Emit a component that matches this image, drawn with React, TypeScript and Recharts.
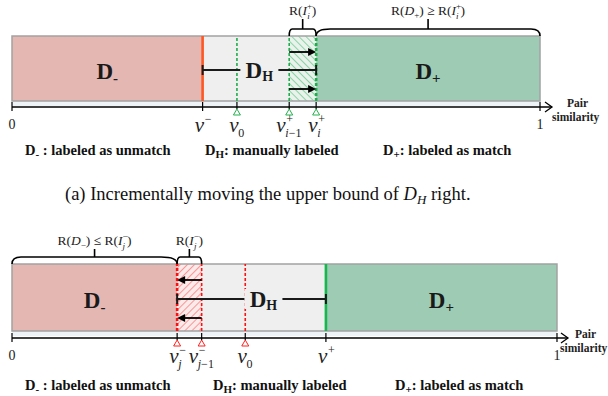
import React from 'react';
import { ComposedChart, XAxis, YAxis, ReferenceArea, ReferenceLine } from 'recharts';

// panel (a): upper bound of D_H moves right
const topTicks = [0, 0.361, 0.426, 0.525, 0.576, 1];
const topTickLabels = [
  { base: '0' },
  { base: 'v', sup: '−' },
  { base: 'v', sub: '0' },
  { base: 'v', sub: 'i−1', sup: '+' },
  { base: 'v', sub: 'i', sup: '+' },
  { base: '1' },
];
const topMarkers = [false, false, true, true, true, false];

// panel (b): lower bound of D_H moves left
const botTicks = [0, 0.303, 0.348, 0.428, 0.576, 1];
const botTickLabels = [
  { base: '0' },
  { base: 'v', sub: 'j', sup: '−' },
  { base: 'v', sub: 'j−1', sup: '−' },
  { base: 'v', sub: '0' },
  { base: 'v', sup: '+' },
  { base: '1' },
];
const botMarkers = [false, true, true, true, false, false];

const legendItems = [
  { sub: '-', text: ' : labeled as unmatch' },
  { sub: 'H', text: ': manually labeled' },
  { sub: '+', text: ': labeled as match' },
];

const PINK = '#e4b7b3';
const GREY = '#efefef';
const GREEN = '#9dcbb3';
const STRIP = '#eef3f8';
const BORDER = '#a3a3a3';
const SERIF = '"Liberation Serif", "Times New Roman", serif';

const scriptW = (s?: string) => (s ? s.split('').reduce((a, c) => a + (c === 'i' || c === 'j' ? 3.6 : 6.6), 0) : 0);

function renderTick(p: any, cfg: any) {
  const { x, y, payload } = p;
  const i = cfg.ticks.indexOf(payload.value);
  const lab = cfg.tickLabels[i] || { base: '' };
  const mark = cfg.markers[i];
  let label;
  if (lab.base !== 'v') {
    label = (
      <text x={x} y={y + 22} textAnchor="middle" fontSize={14} fontFamily={SERIF} fill="#222">
        {lab.base}
      </text>
    );
  } else {
    const total = 9 + Math.max(scriptW(lab.sub), scriptW(lab.sup));
    const x0 = x - total / 2;
    label = (
      <g fontFamily={SERIF} fill="#222">
        <text x={x0} y={y + 25} fontSize={21} fontStyle="italic">v</text>
        {lab.sup && <text x={x0 + 10} y={y + 16} fontSize={12}>{lab.sup}</text>}
        {lab.sub && (
          <text x={x0 + 9} y={y + 30} fontSize={12}>
            {lab.sub.split('').map((c: string, k: number) => (
              <tspan key={k} fontStyle={/[a-z]/.test(c) ? 'italic' : 'normal'}>{c}</tspan>
            ))}
          </text>
        )}
      </g>
    );
  }
  return (
    <g>
      <line x1={x} x2={x} y1={y - 5} y2={mark ? y + 2 : y + 4} stroke="#000" strokeWidth={1.2} />
      {mark && (
        <polygon
          points={`${x},${y + 2} ${x - 3.5},${y + 8} ${x + 3.5},${y + 8}`}
          fill="#fff"
          stroke={cfg.markColor}
          strokeWidth={1}
        />
      )}
      {label}
    </g>
  );
}

function regionLabel(sub: string) {
  return (p: any) => {
    const { x, y, width, height, fill } = p;
    return (
      <g>
        <rect x={x} y={y} width={width} height={height} fill={fill} />
        <text x={x + width / 2} y={y + height / 2 + 10} textAnchor="middle" fontFamily={SERIF} fontWeight="bold" fontSize={23} fill="#1a1a1a">
          D<tspan fontSize={15} dy={4}>{sub}</tspan>
        </text>
      </g>
    );
  };
}

function Arrow(p: any) {
  const { x1, y1, x2 } = p;
  const s = x2 > x1 ? 1 : -1;
  return (
    <g>
      <line x1={x1} y1={y1} x2={x2 - s * 7} y2={y1} stroke="#000" strokeWidth={1.8} />
      <polygon points={`${x2},${y1} ${x2 - s * 8},${y1 - 4} ${x2 - s * 8},${y1 + 4}`} fill="#000" />
    </g>
  );
}

function dhLine(frac: number) {
  return (p: any) => {
    const { x1, y1, x2 } = p;
    const lx = x1 + (x2 - x1) * frac;
    return (
      <g>
        <line x1={x1} y1={y1} x2={x2} y2={y1} stroke="#1a1a1a" strokeWidth={1.8} />
        <line x1={x1} y1={y1 - 5} x2={x1} y2={y1 + 5} stroke="#1a1a1a" strokeWidth={2} />
        <line x1={x2} y1={y1 - 5} x2={x2} y2={y1 + 5} stroke="#1a1a1a" strokeWidth={2} />
        <rect x={lx - 19} y={y1 - 10} width={38} height={20} fill={GREY} />
        <text x={lx} y={y1 + 8} textAnchor="middle" fontFamily={SERIF} fontWeight="bold" fontSize={23} fill="#1a1a1a">
          D<tspan fontSize={14} dy={3}>H</tspan>
        </text>
      </g>
    );
  };
}

function axisArrow(dx: number) {
  return (p: any) => {
    const { x1, y1, x2 } = p;
    return (
      <g>
        <line x1={x1} y1={y1} x2={x2} y2={y1} stroke="#000" strokeWidth={1.5} />
        <polyline points={`${x2 - 7},${y1 - 5} ${x2},${y1} ${x2 - 7},${y1 + 5}`} fill="none" stroke="#000" strokeWidth={1.3} />
        <text x={x2 + dx} y={y1} fontFamily={SERIF} fontWeight="bold" fontSize={11.5} fill="#222">Pair</text>
        <text x={x2 + dx - 15} y={y1 + 13.5} fontFamily={SERIF} fontWeight="bold" fontSize={11.5} fill="#222">similarity</text>
      </g>
    );
  };
}

function Brace(label: React.ReactNode, cl: number, cr: number, stem: number) {
  return (p: any) => {
    const { x, y, width, height } = p;
    const x1 = x, x2 = x + width, yb = y, yBar = y + height;
    const mid = (x1 + x2) / 2;
    const d = `M${x1},${yBar} Q${x1},${yb} ${x1 + cl},${yb} L${x2 - cr},${yb} Q${x2},${yb} ${x2},${yBar} M${mid},${yb} L${mid},${yb - stem}`;
    return (
      <g>
        <path d={d} fill="none" stroke="#000" strokeWidth={1.6} />
        <text x={mid} y={yb - stem - 4} textAnchor="middle" fontFamily={SERIF} fontSize={13.5} fill="#222">
          {label}
        </text>
      </g>
    );
  };
}

// R(I_s^t), sub and sup stacked
const rI = (sub: string, sup: string) => (
  <>
    <tspan>R(</tspan>
    <tspan fontStyle="italic">I</tspan>
    <tspan fontSize={9} dy={-6}>{sup}</tspan>
    <tspan fontSize={9} fontStyle="italic" dx={-5} dy={10}>{sub}</tspan>
    <tspan dx={2} dy={-4}>)</tspan>
  </>
);
const rD = (sub: string) => (
  <>
    <tspan>R(</tspan>
    <tspan fontStyle="italic">D</tspan>
    <tspan fontSize={9} dy={3}>{sub}</tspan>
    <tspan dy={-3}>)</tspan>
  </>
);

function Panel({ cfg }: any) {
  const c = cfg;
  return (
    <ComposedChart width={608} height={c.height} margin={{ top: 0, right: c.right, left: 12, bottom: 3 }}>
      <defs>
        <pattern id={`hatch-${c.id}`} patternUnits="userSpaceOnUse" width={5} height={5} patternTransform={`rotate(${c.hatchAngle})`}>
          <rect width={5} height={5} fill={c.hatchBg} />
          <line x1={0} y1={0} x2={0} y2={5} stroke={c.hatchColor} strokeWidth={1.1} />
        </pattern>
      </defs>
      <XAxis
        type="number"
        dataKey="x"
        domain={[0, c.xMax]}
        ticks={c.ticks}
        interval={0}
        axisLine={false}
        tickLine={false}
        tickSize={0}
        tickMargin={0}
        height={30}
        allowDataOverflow
        tick={(p: any) => renderTick(p, c)}
      />
      <YAxis type="number" domain={[0, c.yMax]} hide allowDataOverflow />

      <ReferenceArea x1={0} x2={1} y1={c.stripBot} y2={c.barBot} fill={STRIP} fillOpacity={1} stroke="none" />
      <ReferenceArea x1={0} x2={c.dNeg} y1={c.barBot} y2={c.barTop} fill={PINK} fillOpacity={1} shape={regionLabel('-')} />
      <ReferenceArea x1={c.dNeg} x2={c.dPos} y1={c.barBot} y2={c.barTop} fill={GREY} fillOpacity={1} stroke="none" />
      <ReferenceArea x1={c.hatch[0]} x2={c.hatch[1]} y1={c.barBot} y2={c.barTop} fill={`url(#hatch-${c.id})`} fillOpacity={1} stroke="none" />
      <ReferenceArea x1={c.dPos} x2={1} y1={c.barBot} y2={c.barTop} fill={GREEN} fillOpacity={1} shape={regionLabel('+')} />
      <ReferenceArea x1={0} x2={1} y1={c.barBot} y2={c.barTop} fill="none" fillOpacity={0} stroke={BORDER} strokeWidth={1.5} />

      {c.lines.map((l: any, k: number) => (
        <ReferenceLine
          key={k}
          segment={[{ x: l.x, y: c.barBot }, { x: l.x, y: c.barTop }]}
          stroke={l.color}
          strokeWidth={l.w}
          strokeDasharray={l.dash ? '3 2' : undefined}
          ifOverflow="visible"
        />
      ))}

      {c.arrowYs.map((yv: number, k: number) => (
        <ReferenceLine key={`a${k}`} segment={[{ x: c.arrowFrom, y: yv }, { x: c.arrowTo, y: yv }]} shape={Arrow} ifOverflow="visible" />
      ))}
      <ReferenceLine segment={[{ x: c.dhFrom, y: c.midY }, { x: c.dhTo, y: c.midY }]} shape={dhLine(c.dhFrac)} ifOverflow="visible" />

      {c.braces.map((b: any, k: number) => (
        <ReferenceArea key={`b${k}`} x1={b.x1} x2={b.x2} y1={c.barTop} y2={c.braceBase} fill="none" shape={Brace(b.label, b.cl, b.cr, c.stem)} ifOverflow="visible" />
      ))}

      <ReferenceLine segment={[{ x: 0, y: 0 }, { x: c.xMax, y: 0 }]} shape={axisArrow(c.pairDx)} ifOverflow="visible" />
    </ComposedChart>
  );
}

const [, tMinus, tV0, tPrev, tCur] = topTicks;
const [, bJ, bPrev, bV0, bPlus] = botTicks;

const TOP = {
  id: 'top', height: 140, xMax: 1.0227, right: 56, yMax: 107,
  ticks: topTicks, tickLabels: topTickLabels, markers: topMarkers, markColor: '#22b14c',
  barTop: 71, barBot: 6, stripBot: 1, midY: 37, arrowYs: [55, 18], braceBase: 78, stem: 10,
  dNeg: tMinus, dPos: tCur, hatch: [tPrev, tCur], hatchAngle: -45, hatchColor: '#3cb96a', hatchBg: '#e9f3ec',
  lines: [
    { x: tMinus, color: '#ff5722', w: 2.6, dash: false },
    { x: tV0, color: '#1fae4b', w: 1.6, dash: true },
    { x: tPrev, color: '#1fae4b', w: 1.6, dash: true },
    { x: tCur, color: '#1fae4b', w: 2.6, dash: true },
  ],
  arrowFrom: tPrev, arrowTo: tCur, dhFrom: tMinus, dhTo: tCur, dhFrac: 0.5,
  braces: [
    { x1: tPrev, x2: tCur, label: rI('i', '+'), cl: 3, cr: 3 },
    { x1: tCur, x2: 1, label: <>{rD('+')}<tspan> ≥ </tspan>{rI('i', '+')}</>, cl: 14, cr: 9 },
  ],
  pairDx: 15,
};

const BOT = {
  id: 'bot', height: 146, xMax: 1.0202, right: 40, yMax: 113,
  ticks: botTicks, tickLabels: botTickLabels, markers: botMarkers, markColor: '#ff2020',
  barTop: 74, barBot: 7, stripBot: 2, midY: 39, arrowYs: [58, 20], braceBase: 81, stem: 8,
  dNeg: bJ, dPos: bPlus, hatch: [bJ, bPrev], hatchAngle: 45, hatchColor: '#ff4d4d', hatchBg: '#fbeaea',
  lines: [
    { x: bJ, color: '#ff1010', w: 2.6, dash: true },
    { x: bPrev, color: '#ff1010', w: 1.6, dash: true },
    { x: bV0, color: '#ff1010', w: 1.6, dash: true },
    { x: bPlus, color: '#16b84e', w: 2.6, dash: false },
  ],
  arrowFrom: bPrev, arrowTo: bJ, dhFrom: bJ, dhTo: bPlus, dhFrac: 0.58,
  braces: [
    { x1: 0, x2: bJ, label: <>{rD('−')}<tspan> ≤ </tspan>{rI('j', '−')}</>, cl: 9, cr: 16 },
    { x1: bJ, x2: bPrev, label: rI('j', '−'), cl: 3, cr: 3 },
  ],
  pairDx: 7,
};

function LegendRow({ top, xs }: any) {
  return (
    <>
      {legendItems.map((it, k) => (
        <div
          key={k}
          style={{
            position: 'absolute', left: xs[k], top, fontFamily: SERIF, fontWeight: 'bold',
            fontSize: 14.5, lineHeight: '16px', color: '#111', whiteSpace: 'nowrap',
          }}
        >
          D<sub style={{ fontSize: 11, verticalAlign: '-3px', lineHeight: 0 }}>{it.sub}</sub>
          {it.text}
        </div>
      ))}
    </>
  );
}

export default function App() {
  return (
    <div style={{ position: 'relative', width: 608, height: 396, background: '#fff', overflow: 'hidden' }}>
      <style>{'body{margin:0}'}</style>
      <div style={{ position: 'absolute', left: 0, top: 0 }}>
        <Panel cfg={TOP} />
      </div>
      <LegendRow top={142} xs={[25, 205, 383]} />
      <div
        style={{
          position: 'absolute', left: 65, top: 184, fontFamily: SERIF, fontSize: 18.5,
          lineHeight: '20px', color: '#111', whiteSpace: 'nowrap',
        }}
      >
        (a) Incrementally moving the upper bound of <i>D</i>
        <sub style={{ fontStyle: 'italic', fontSize: 13, verticalAlign: '-4px', lineHeight: 0 }}>H</sub> right.
      </div>
      <div style={{ position: 'absolute', left: 0, top: 225 }}>
        <Panel cfg={BOT} />
      </div>
      <LegendRow top={377} xs={[25, 213, 395]} />
    </div>
  );
}
